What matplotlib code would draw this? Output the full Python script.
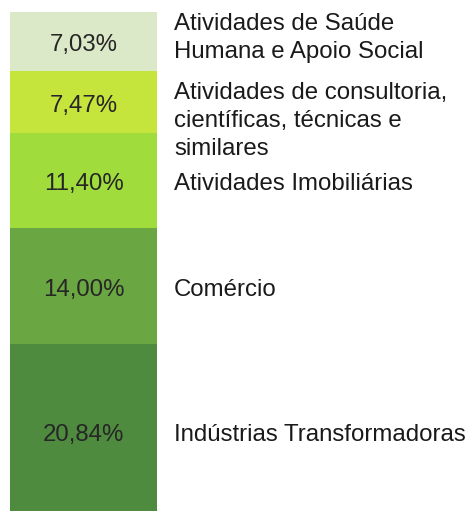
import numpy as np
import matplotlib.pyplot as plt

plt.rcParams['font.family'] = ['Liberation Sans', 'DejaVu Sans']

# data, top to bottom
labels = ["Atividades de Saúde\nHumana e Apoio Social",
          "Atividades de consultoria,\ncientíficas, técnicas e\nsimilares",
          "Atividades Imobiliárias",
          "Comércio",
          "Indústrias Transformadoras"]
values = [7.03, 7.47, 11.40, 14.00, 20.84]
pct_text = ["7,03%", "7,47%", "11,40%", "14,00%", "20,84%"]
colors = ["#dbe9c8", "#c5e43c", "#a1dc3d", "#6aa642", "#4e8b3e"]

# label nudges (in %-units) so the texts do not collide
label_shift = [-0.9, 1.8, 0, 0, 0]


def main():
    fig = plt.figure(figsize=(4.7, 5.11), dpi=100)
    ax = fig.add_axes([0, 0, 1, 1])

    bottoms = np.concatenate([[0], np.cumsum(values)[:-1]])
    ax.bar(83.5, values, bottom=bottoms, width=147, color=colors,
           edgecolor="none")

    for v, b, t, lab, s in zip(values, bottoms, pct_text, labels, label_shift):
        mid = b + v / 2 + 0.5
        ax.text(83.5, mid, t, ha="center", va="center", fontsize=17.3,
                color="#262626")
        ax.text(174, mid + s, lab, ha="left", va="center", fontsize=17.3,
                color="#1a1a1a", linespacing=1.35)

    # 12px above top, bar runs past the bottom edge
    px = 8.33
    ax.set_xlim(0, 470)
    ax.set_ylim((511 - 12) / px, -12 / px)
    ax.axis("off")

    fig.savefig("out.png", dpi=100)


main()
